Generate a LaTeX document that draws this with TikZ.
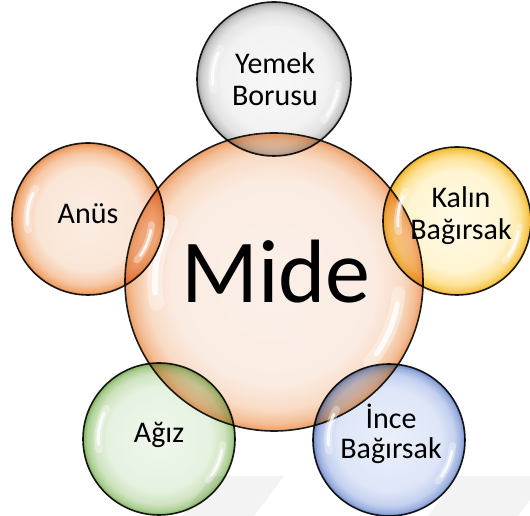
\documentclass[tikz,border=0pt]{standalone}
\usepackage{fontspec}
\setmainfont{Carlito}
\usetikzlibrary{calc}

% TikZ maps the path's bounding box onto the middle 50bp of a shading: circle edge = 25bp
\pgfdeclareradialshading{shMide}{\pgfpoint{0bp}{0bp}}{rgb(0bp)=(0.985,0.94,0.91); rgb(17bp)=(0.985,0.925,0.89); rgb(21.5bp)=(0.975,0.86,0.77); rgb(23.8bp)=(0.955,0.74,0.58); rgb(25bp)=(0.93,0.62,0.40); rgb(50bp)=(0.93,0.62,0.40)}
\pgfdeclareradialshading{shGray}{\pgfpoint{0bp}{0bp}}{rgb(0bp)=(0.97,0.97,0.97); rgb(17bp)=(0.95,0.95,0.95); rgb(21.5bp)=(0.89,0.89,0.89); rgb(23.8bp)=(0.78,0.78,0.78); rgb(25bp)=(0.62,0.62,0.62); rgb(50bp)=(0.62,0.62,0.62)}
\pgfdeclareradialshading{shYellow}{\pgfpoint{0bp}{0bp}}{rgb(0bp)=(1.0,0.98,0.91); rgb(17bp)=(1.0,0.96,0.82); rgb(21.5bp)=(0.99,0.89,0.60); rgb(23.8bp)=(0.97,0.79,0.34); rgb(25bp)=(0.93,0.70,0.18); rgb(50bp)=(0.93,0.70,0.18)}
\pgfdeclareradialshading{shOrange}{\pgfpoint{0bp}{0bp}}{rgb(0bp)=(0.985,0.93,0.89); rgb(17bp)=(0.98,0.90,0.84); rgb(21.5bp)=(0.97,0.79,0.66); rgb(23.8bp)=(0.94,0.67,0.47); rgb(25bp)=(0.90,0.55,0.30); rgb(50bp)=(0.90,0.55,0.30)}
\pgfdeclareradialshading{shGreen}{\pgfpoint{0bp}{0bp}}{rgb(0bp)=(0.94,0.97,0.925); rgb(17bp)=(0.90,0.95,0.88); rgb(21.5bp)=(0.81,0.89,0.75); rgb(23.8bp)=(0.67,0.81,0.57); rgb(25bp)=(0.50,0.70,0.38); rgb(50bp)=(0.50,0.70,0.38)}
\pgfdeclareradialshading{shBlue}{\pgfpoint{0bp}{0bp}}{rgb(0bp)=(0.92,0.94,0.985); rgb(17bp)=(0.87,0.90,0.97); rgb(21.5bp)=(0.77,0.82,0.94); rgb(23.8bp)=(0.61,0.69,0.87); rgb(25bp)=(0.42,0.52,0.78); rgb(50bp)=(0.42,0.52,0.78)}

\definecolor{rimline}{RGB}{28,26,24}
\definecolor{stripe}{RGB}{243,243,243}

\tikzset{
  bub/.style={circle, draw=rimline, line width=1.6pt, inner sep=0pt, minimum size=#1},
  lbl/.style={font=\fontsize{30}{32}\selectfont, align=center, inner sep=0pt, text=black},
  hlwide/.style={white, opacity=0.35, line cap=round},
  hlthin/.style={white, opacity=0.8, line cap=round},
}

\newcommand\bubhl[2]{%
  \draw[hlwide, line width={0.10*#2}] (#1.center) ++(150:{0.80*#2}) arc[start angle=150, end angle=190, radius={0.80*#2}];
  \draw[hlthin, line width={0.04*#2}] (#1.center) ++(155:{0.80*#2}) arc[start angle=155, end angle=185, radius={0.80*#2}];
  \draw[hlwide, line width={0.09*#2}] (#1.center) ++(-40:{0.84*#2}) arc[start angle=-40, end angle=-5, radius={0.84*#2}];
  \draw[hlthin, line width={0.035*#2}] (#1.center) ++(-35:{0.84*#2}) arc[start angle=-35, end angle=-10, radius={0.84*#2}];
}

\begin{document}
\begin{tikzpicture}[x=1pt,y=1pt]
\useasboundingbox (0,0) rectangle (530,516);

% faint background stripes
\fill[stripe] (212,40) -- (284,40) -- (254,0) -- (182,0) -- cycle;
\fill[stripe] (458,40) -- (548,40) -- (518,0) -- (428,0) -- cycle;

% central bubble
\node[bub=298pt, shading=shMide] (mide) at (274,234) {};
\bubhl{mide}{149}

% satellites, multiplied over the centre
\begin{scope}[blend mode=multiply]
\node[bub=154pt, shading=shGray]   (yemek) at (274,437) {};
\node[bub=148pt, shading=shYellow] (kalin) at (457,295) {};
\node[bub=152pt, shading=shOrange] (anus)  at (88,297)  {};
\node[bub=152pt, shading=shGreen]  (agiz)  at (159,77)  {};
\node[bub=152pt, shading=shBlue]   (ince)  at (389,76)  {};
\end{scope}

\bubhl{yemek}{77}
\bubhl{kalin}{74}
\bubhl{anus}{76}
\bubhl{agiz}{76}
\bubhl{ince}{76}

% labels
\node[anchor=base, inner sep=0pt, font=\fontsize{90}{90}\selectfont] (mideT) at (276,213) {Mide};
\node[lbl] (yemekT) at (275,437) {Yemek\\Borusu};
\node[lbl] (kalinT) at (461,300) {Kalın\\Bağırsak};
\node[lbl, anchor=base] (anusT) at (88,292) {Anüs};
\node[lbl, anchor=base] (agizT) at (159,73) {Ağız};
\node[lbl, font=\fontsize{30}{30}\selectfont] (inceT) at (391,82) {İnce\\Bağırsak};
\end{tikzpicture}
\end{document}
